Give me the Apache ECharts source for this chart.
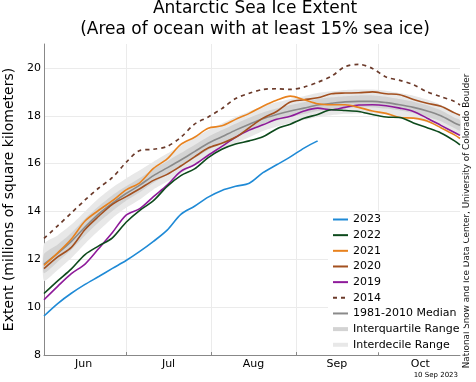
<!DOCTYPE html>
<html>
<head>
<meta charset="utf-8">
<script src="https://cdn.jsdelivr.net/npm/echarts@6/dist/echarts.min.js"></script>
<style>html,body{margin:0;padding:0;background:#fff}#c{width:476px;height:382px}</style>
</head>
<body>
<div id="c"></div>
<script>
// days since 1 June
const days = [0,5,10,15,20,25,30,35,40,45,50,55,60,65,70,75,80,85,90,95,100,105,110,115,120,125,130,135,140,145,150,152];
const monthNames = ['Jun','Jul','Aug','Sep','Oct'];
const monthMid = [14.5,45.5,76.5,107,137.5];
const monthStarts = [30,61,92,122];
const yTicks = [8,10,12,14,16,18,20];

const y2023 = [9.63,10.15,10.58,10.95,11.28,11.62,11.95,12.33,12.75,13.22,13.88,14.22,14.6,14.88,15.05,15.18,15.62,15.95,16.28,16.65,16.95];
const y2022 = [10.57,11.1,11.6,12.2,12.56,12.9,13.55,14.05,14.45,15.05,15.5,15.78,16.25,16.6,16.82,16.95,17.12,17.45,17.65,17.9,18.05,18.25,18.22,18.18,18.05,17.95,17.93,17.7,17.5,17.28,16.95,16.78];
const y2021 = [11.75,12.27,12.85,13.6,14.05,14.45,14.9,15.2,15.8,16.2,16.8,17.1,17.48,17.58,17.85,18.1,18.4,18.65,18.82,18.67,18.5,18.46,18.46,18.35,18.2,18.1,17.93,17.9,17.78,17.5,17.2,17.05];
const y2020 = [11.61,12.1,12.5,13.25,13.8,14.3,14.62,14.95,15.3,15.55,15.9,16.28,16.65,16.85,17.1,17.5,17.9,18.18,18.58,18.67,18.75,18.92,18.95,18.96,19.0,18.92,18.88,18.68,18.52,18.4,18.12,18.02];
const y2019 = [10.31,10.87,11.4,11.8,12.45,13.12,13.85,14.12,14.62,15.1,15.68,15.95,16.35,16.72,17.1,17.4,17.62,17.85,17.98,18.2,18.32,18.25,18.35,18.45,18.46,18.42,18.32,18.18,17.9,17.6,17.3,17.18];
const y2014 = [12.87,13.4,13.94,14.48,14.98,15.42,16.05,16.55,16.6,16.72,17.1,17.65,17.95,18.3,18.72,18.94,19.1,19.13,19.1,19.2,19.4,19.65,20.05,20.15,19.98,19.62,19.48,19.3,19.0,18.8,18.6,18.45];
const median = [11.8,12.25,12.75,13.35,13.9,14.35,14.75,15.1,15.5,15.82,16.15,16.5,16.85,17.12,17.4,17.65,17.88,18.05,18.2,18.32,18.45,18.52,18.58,18.6,18.6,18.55,18.46,18.35,18.2,18.0,17.7,17.6];
const iqrLow = [11.42,11.9,12.4,13.0,13.55,14.02,14.45,14.8,15.2,15.52,15.86,16.22,16.57,16.85,17.12,17.38,17.62,17.8,17.95,18.07,18.2,18.27,18.33,18.35,18.35,18.3,18.22,18.11,17.96,17.77,17.48,17.38];
const iqrHigh = [12.22,12.62,13.1,13.7,14.22,14.68,15.05,15.4,15.78,16.1,16.44,16.78,17.12,17.4,17.67,17.92,18.14,18.3,18.45,18.57,18.7,18.77,18.82,18.85,18.85,18.8,18.7,18.59,18.44,18.23,17.92,17.82];
const idrLow = [11.1,11.55,12.05,12.65,13.2,13.72,14.15,14.5,14.92,15.25,15.58,15.95,16.3,16.58,16.85,17.1,17.36,17.55,17.7,17.82,17.95,18.02,18.08,18.1,18.1,18.05,17.97,17.86,17.72,17.54,17.25,17.15];
const idrHigh = [12.65,13.0,13.45,14.0,14.55,15.0,15.38,15.72,16.08,16.42,16.75,17.08,17.4,17.68,17.95,18.18,18.4,18.56,18.7,18.82,18.95,19.02,19.08,19.1,19.1,19.05,18.95,18.84,18.68,18.46,18.15,18.05];

const FONT = 'DejaVu Sans';
const IQR_COLOR = '#d3d3d3';
const IDR_COLOR = '#e8e8e8';
const pairs = vals => vals.map((v, i) => [days[i], v]);

function band(name, lo, hi, color) {
  return {
    name: name, type: 'custom', silent: true, z: 1,
    data: days.map((d, i) => [d, lo[i], hi[i]]),
    encode: { x: 0, y: [1, 2] },
    renderItem: function (params, api) {
      if (params.dataIndex !== 0) return null;
      const pts = [];
      for (let i = 0; i < days.length; i++) pts.push(api.coord([days[i], hi[i]]));
      for (let i = days.length - 1; i >= 0; i--) pts.push(api.coord([days[i], lo[i]]));
      return { type: 'polygon', shape: { points: pts, smooth: 0.2 }, style: { fill: color, stroke: null } };
    }
  };
}
function line(name, vals, color, extra) {
  return Object.assign({
    name: name, type: 'line', data: pairs(vals), symbol: 'none', smooth: 0.3,
    lineStyle: { color: color, width: 1.6 }, itemStyle: { color: color }, z: 3
  }, extra || {});
}
const barIcon = 'path://M0,0H15V4H0Z';

const chart = echarts.init(document.getElementById('c'), null, { renderer: 'canvas' });
chart.setOption({
  animation: false,
  backgroundColor: '#fff',
  textStyle: { fontFamily: FONT },
  grid: { left: 44, top: 44, width: 416, height: 311, outerBoundsMode: 'none', containLabel: false },
  xAxis: {
    type: 'value', min: 0, max: 152,
    axisLine: { lineStyle: { color: '#888', width: 1 } },
    axisTick: { show: true, inside: true, length: 3, customValues: monthStarts, lineStyle: { color: '#888' } },
    axisLabel: { customValues: monthMid, color: '#000', fontSize: 11, fontFamily: FONT, margin: 4,
      formatter: v => monthNames[monthMid.indexOf(v)] || '' },
    splitLine: { show: true, lineStyle: { color: '#ebebeb', width: 1 } }
  },
  yAxis: {
    type: 'value', min: 8, max: 21, interval: 2,
    axisLine: { show: true, lineStyle: { color: '#888', width: 1 } },
    axisTick: { show: false, customValues: yTicks },
    axisLabel: { customValues: yTicks, color: '#000', fontSize: 11, fontFamily: FONT, margin: 3 },
    splitLine: { show: true, lineStyle: { color: '#ebebeb', width: 1 } },
    name: 'Extent (millions of square kilometers)', nameLocation: 'middle', nameGap: 28,
    nameTextStyle: { color: '#000', fontSize: 14, fontFamily: FONT }
  },
  legend: {
    orient: 'vertical', left: 328, top: 212, padding: [2, 4, 2, 4],
    backgroundColor: '#fff', itemWidth: 15, itemHeight: 11, itemGap: 4.66,
    itemStyle: { opacity: 0 },
    textStyle: { color: '#000', fontSize: 11, fontFamily: FONT },
    data: ['2023','2022','2021','2020','2019','2014','1981-2010 Median',
      { name: 'Interquartile Range', icon: barIcon, itemStyle: { opacity: 1, color: IQR_COLOR } },
      { name: 'Interdecile Range', icon: barIcon, itemStyle: { opacity: 1, color: IDR_COLOR } }]
  },
  series: [
    band('idrBand', idrLow, idrHigh, IDR_COLOR),
    band('iqrBand', iqrLow, iqrHigh, IQR_COLOR),
    line('1981-2010 Median', median, '#8a8a8a', { z: 2 }),
    line('Interquartile Range', [], IQR_COLOR),
    line('Interdecile Range', [], IDR_COLOR),
    line('2014', y2014, '#6b3a2a', { lineStyle: { color: '#6b3a2a', width: 1.7, type: [4, 4] } }),
    line('2019', y2019, '#8e1a9a'),
    line('2020', y2020, '#a3501f'),
    line('2021', y2021, '#e8821e'),
    line('2022', y2022, '#0d4a1c'),
    line('2023', y2023, '#1f8ad6')
  ],
  graphic: [
    { type: 'text', x: 255, y: 8.5, style: { text: 'Antarctic Sea Ice Extent', font: '17px "DejaVu Sans"', fill: '#000', align: 'center', verticalAlign: 'middle' } },
    { type: 'text', x: 255, y: 30, style: { text: '(Area of ocean with at least 15% sea ice)', font: '17px "DejaVu Sans"', fill: '#000', align: 'center', verticalAlign: 'middle' } },
    { type: 'text', x: 458, y: 375.5, style: { text: '10 Sep 2023', font: '7px "DejaVu Sans"', fill: '#000', align: 'right', verticalAlign: 'middle' } },
    { type: 'text', x: 467, y: 221, rotation: Math.PI / 2, style: { text: 'National Snow and Ice Data Center, University of Colorado Boulder', font: '8.8px "DejaVu Sans"', fill: '#111', align: 'center', verticalAlign: 'middle' } }
  ]
});
</script>
</body>
</html>
